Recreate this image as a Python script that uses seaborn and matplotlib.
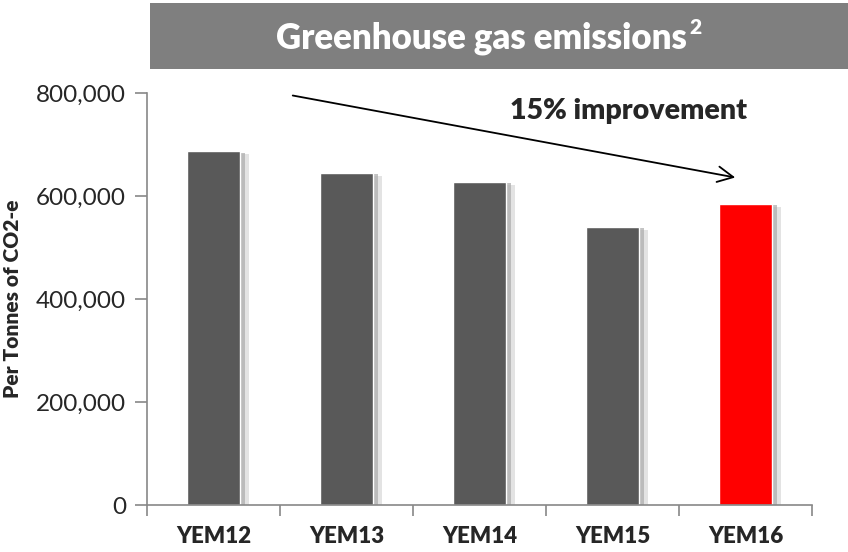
import matplotlib
matplotlib.use('Agg')
import matplotlib.pyplot as plt
import matplotlib.patheffects as pe
from matplotlib.patches import Rectangle
from matplotlib.ticker import FuncFormatter
import seaborn as sns
import pandas as pd

# data
years = ['YEM12', 'YEM13', 'YEM14', 'YEM15', 'YEM16']
emissions = [687000, 645000, 627000, 540000, 585000]
bar_colors = ['#595959', '#595959', '#595959', '#595959', '#ff0000']

sns.set_style('white')
plt.rcParams['font.family'] = ['Lato', 'DejaVu Sans']

df = pd.DataFrame({'year': years, 'value': emissions})

fig = plt.figure(figsize=(8.48, 5.52), dpi=100)
ax = fig.add_axes([0.1733, 0.0851, 0.7842, 0.7464])

sns.barplot(data=df, x='year', y='value', hue='year', palette=bar_colors,
            legend=False, width=0.405, saturation=1, ax=ax)

# soft drop shadow like the spreadsheet original
for p in ax.patches:
    p.set_path_effects([pe.SimplePatchShadow(offset=(6, -2), shadow_rgbFace='#d8d8d8', alpha=0.7),
                        pe.SimplePatchShadow(offset=(3, -1), shadow_rgbFace='#aaaaaa', alpha=0.7),
                        pe.Normal()])

ax.set_ylim(0, 800000)
ax.set_xlim(-0.5, 4.5)
ax.set_yticks([0, 200000, 400000, 600000, 800000])
ax.yaxis.set_major_formatter(FuncFormatter(lambda v, _: f'{int(v):,}'))
ax.tick_params(axis='y', labelsize=17.5, length=9, width=1.2, color='#888888', direction='out', left=True, pad=6)
ax.tick_params(axis='x', which='major', length=0, labelsize=16, pad=15)
ax.set_xticks([-0.5, 0.5, 1.5, 2.5, 3.5, 4.5], minor=True)
ax.tick_params(axis='x', which='minor', length=8, width=1.2, color='#888888', direction='out', bottom=True)
for lbl in ax.get_xticklabels():
    lbl.set_fontweight('heavy')

ax.set_xlabel('')
ax.set_ylabel('Per Tonnes of CO2-e', fontsize=15, fontweight='heavy', labelpad=10)

for side in ['top', 'right']:
    ax.spines[side].set_visible(False)
for side in ['left', 'bottom']:
    ax.spines[side].set_color('#888888')
    ax.spines[side].set_linewidth(1.2)

# grey title band
fig.patches.append(Rectangle((150 / 848, 1 - 69 / 552), 698 / 848, 66 / 552,
                             transform=fig.transFigure, facecolor='#7f7f7f', edgecolor='none'))
fig.text(687 / 848, 1 - 38 / 552, 'Greenhouse gas emissions', color='white', fontsize=25,
         fontweight='heavy', ha='right', va='center')
fig.text(689 / 848, 1 - 28 / 552, '2', color='white', fontsize=15,
         fontweight='heavy', ha='left', va='center')

# trend arrow and note
ax.annotate('', xy=(738 / 848, 1 - 178 / 552), xytext=(290 / 848, 1 - 95 / 552),
            xycoords='figure fraction', textcoords='figure fraction',
            arrowprops=dict(arrowstyle='->', color='black', lw=1.3, mutation_scale=28))
fig.text(629 / 848, 1 - 111 / 552, '15% improvement', fontsize=20.5, fontweight='heavy',
         ha='center', va='center')

fig.savefig('out.png', dpi=100)
